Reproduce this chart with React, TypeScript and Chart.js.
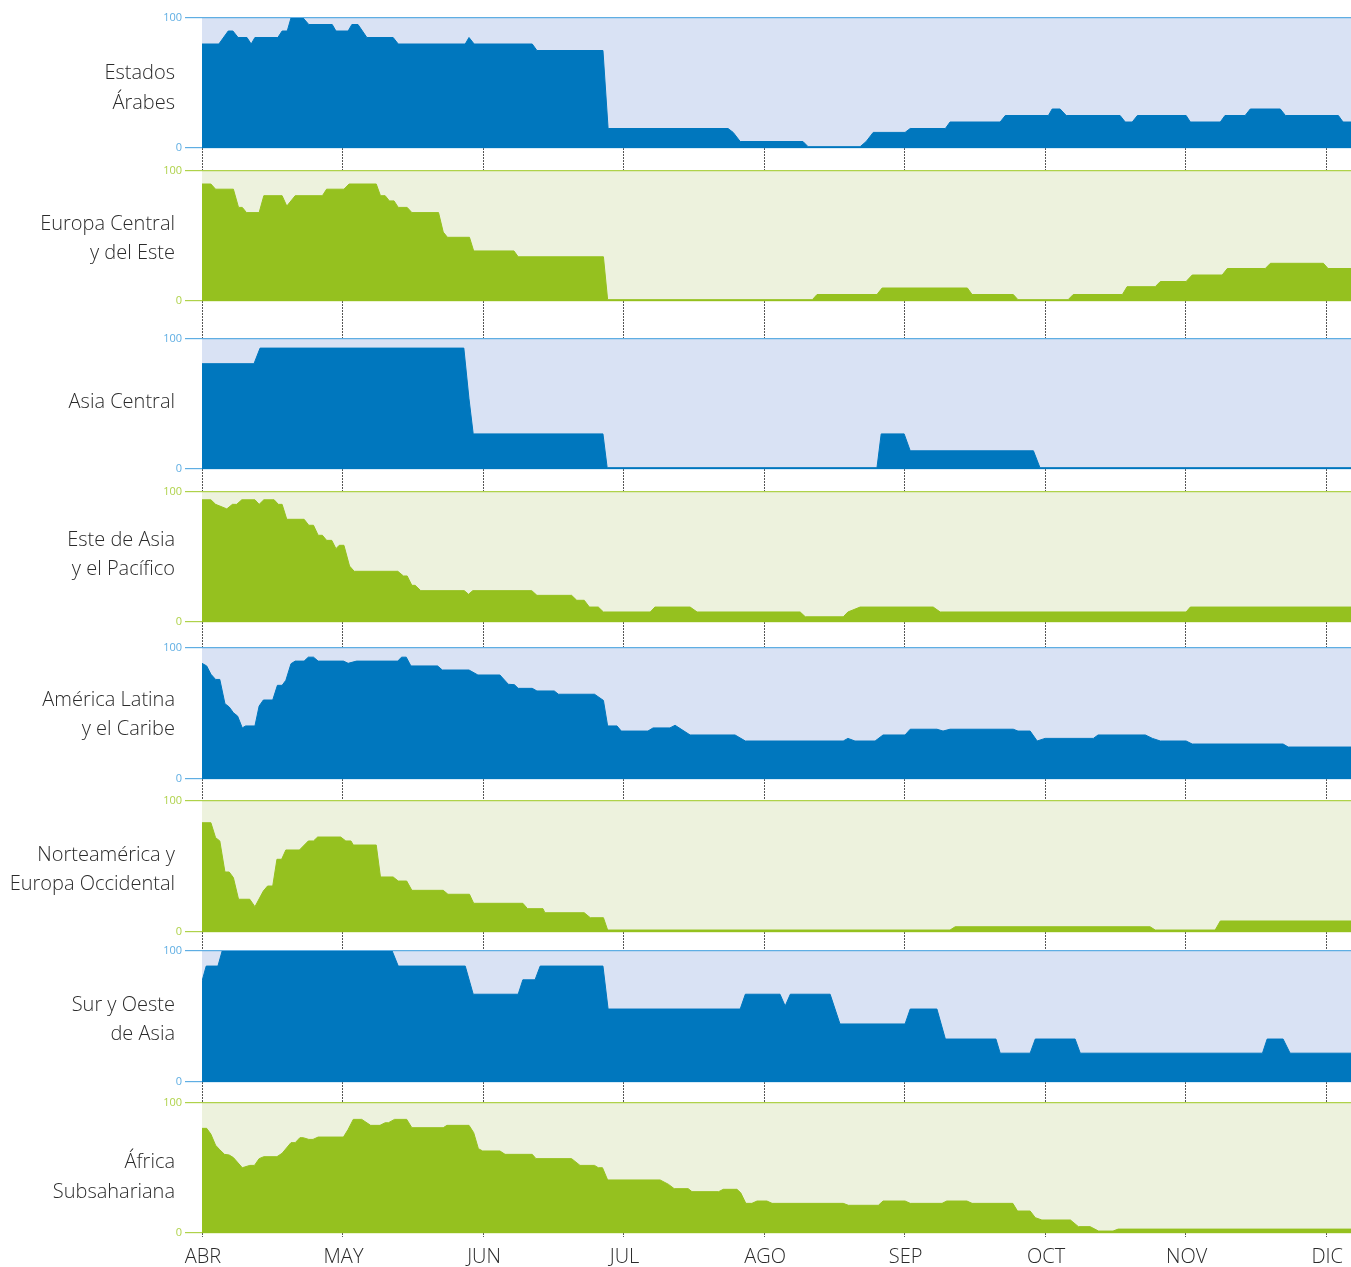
import React, { useEffect, useRef } from 'react';
import { Chart, registerables } from 'chart.js';

Chart.register(...registerables);

// ---- Data ----
// x = days since 1 April (30 per month on the chart's month grid), y = value (0-100)
const MONTHS = ['ABR', 'MAY', 'JUN', 'JUL', 'AGO', 'SEP', 'OCT', 'NOV', 'DIC'];
const DAYS_PER_MONTH = 30;
const X_MAX = 245.3;

const REGION_LABELS: string[][] = [
  ['Estados', 'Árabes'],
  ['Europa Central', 'y del Este'],
  ['Asia Central'],
  ['Este de Asia', 'y el Pacífico'],
  ['América Latina', 'y el Caribe'],
  ['Norteamérica y', 'Europa Occidental'],
  ['Sur y Oeste', 'de Asia'],
  ['África', 'Subsahariana'],
];

const estadosArabes: [number, number][] = [
  [0, 80], [3.6, 80], [5.6, 90], [6.6, 90], [7.7, 85], [9.6, 85], [10.5, 80], [11.3, 85],
  [16.2, 85], [17.1, 90], [18.2, 90], [19, 100], [21.6, 100], [22.8, 95], [27.8, 95],
  [28.6, 90], [31.2, 90], [32, 95], [33.3, 95], [35.2, 85], [40.8, 85], [41.9, 80],
  [56.2, 80], [57, 85], [58.1, 80], [70.5, 80], [71.5, 75], [85.6, 75], [86.7, 15],
  [112.3, 15], [113.4, 12], [114.9, 5], [128.3, 5], [129.4, 1], [140.5, 1], [141.8, 5],
  [143.3, 12], [150.1, 12], [151.2, 15], [158.7, 15], [159.7, 20], [170.4, 20], [171.5, 25],
  [180.7, 25], [181.5, 30], [183.2, 30], [184.5, 25], [196, 25], [197.1, 20], [198.6, 20],
  [199.7, 25], [210.1, 25], [211, 20], [217.4, 20], [218.4, 25], [222.7, 25], [223.8, 30],
  [230.2, 30], [231.3, 25], [242.6, 25], [243.6, 20], [245.3, 20],
];

const europaCentral: [number, number][] = [
  [0, 90], [1.9, 90], [2.9, 86], [6.7, 86], [7.8, 72], [8.6, 72], [9.5, 68], [12.2, 68],
  [13.2, 81], [17.1, 81], [18.1, 73], [19.9, 81], [25.7, 81], [26.6, 86], [30.3, 86],
  [31.4, 90], [37.2, 90], [38.1, 81], [39.1, 81], [40, 77], [41, 77], [41.9, 72], [43.8, 72],
  [44.8, 68], [50.5, 68], [51.5, 53], [52.4, 49], [57.1, 49], [58, 38.5], [66.6, 38.5],
  [67.5, 34], [85.7, 34], [86.6, 1], [130.3, 1], [131.3, 5], [144.1, 5], [145.2, 10],
  [163.4, 10], [164.4, 5], [173.2, 5], [174.2, 1], [184.9, 1], [186, 5], [196.5, 5],
  [197.5, 11], [203.5, 11], [204.6, 15], [210.1, 15], [211.4, 20], [217.8, 20], [218.9, 25],
  [227, 25], [228.1, 29], [239.4, 29], [240.4, 25], [245.3, 25],
];

const asiaCentral: [number, number][] = [
  [0, 81], [11.1, 81], [12.4, 93], [55.9, 93], [57, 54], [57.9, 27], [85.6, 27], [86.5, 1],
  [144.1, 1], [145, 27], [149.9, 27], [151.2, 14], [177.5, 14], [178.9, 1], [245.3, 1],
];

const esteAsia: [number, number][] = [
  [0, 94], [1.9, 94], [2.9, 90.5], [5.3, 87], [6.5, 90.5], [7.4, 90.5], [8.5, 94], [11.3, 94],
  [12.2, 90.5], [13.2, 94], [15.4, 94], [16.3, 90.5], [17.1, 90.5], [18.1, 79], [21.8, 79],
  [22.8, 74.4], [23.8, 74.4], [24.8, 66.7], [25.7, 66.7], [26.6, 62.8], [27.7, 62.8],
  [28.6, 56.4], [29.3, 59], [30.3, 59], [31.5, 43], [32.5, 39], [41.8, 39], [43, 35.4],
  [43.8, 35.4], [44.8, 28.2], [45.5, 28.2], [46.7, 24.1], [56, 24.1], [56.9, 21.3],
  [57.8, 24.1], [70.4, 24.1], [71.5, 20.5], [78.9, 20.5], [80, 16.7], [81.6, 16.7],
  [82.7, 11.5], [84.6, 11.5], [85.7, 7.7], [95.7, 7.7], [96.7, 11.5], [104.2, 11.5],
  [105.7, 7.7], [127.7, 7.7], [128.8, 4], [136.9, 4], [137.9, 7.7], [140.5, 11.5],
  [156.1, 11.5], [157.6, 7.7], [210.1, 7.7], [211, 11.5], [245.3, 11.5],
];

const americaLatina: [number, number][] = [
  [0, 88.3], [1, 86.3], [1.9, 80], [2.9, 76], [3.8, 76], [4.9, 57.5], [5.8, 55], [6.7, 50.6],
  [7.6, 48], [8.6, 39], [9.3, 40.5], [11.3, 40.5], [12.2, 55.7], [13.1, 60.3], [15.1, 60.3],
  [16.1, 71.5], [17.1, 71.5], [17.9, 75.3], [19, 88], [19.9, 90], [21.8, 90], [22.7, 93],
  [23.8, 93], [24.8, 90], [30.2, 90], [31.2, 88.3], [33, 90], [41.8, 90], [42.6, 93],
  [43.6, 93], [44.6, 86.3], [50.3, 86.3], [51.3, 83.2], [57, 83.2], [58.9, 79.4],
  [63.6, 79.4], [65.4, 72.3], [66.7, 72], [67.5, 69.2], [70.5, 69.2], [71.5, 67.2],
  [75.2, 67.2], [76.1, 64.7], [83.8, 64.7], [85.7, 60], [86.6, 40.5], [88.6, 40.5],
  [89.5, 36.6], [95.2, 36.6], [96.3, 39], [99.9, 39], [101, 41], [104.2, 33.6],
  [113.8, 33.6], [116, 29], [136.9, 29], [137.9, 31], [139.4, 29], [143.7, 29],
  [145.4, 33.6], [150.1, 33.6], [151.2, 38], [156.9, 38], [158.2, 36.6], [159.7, 38],
  [173.2, 38], [174.2, 36.6], [176.8, 36.6], [178.3, 29], [180, 31], [190.3, 31],
  [191.3, 33.6], [201.4, 33.6], [202.9, 31], [204.6, 29], [210.1, 29], [211.4, 26.7],
  [230.8, 26.7], [231.9, 24.4], [245.3, 24.4],
];

const norteamerica: [number, number][] = [
  [0, 83.4], [1.9, 83.4], [2.9, 72], [3.8, 69.5], [4.9, 45.8], [5.8, 45.8], [6.7, 41.5],
  [7.8, 25], [10.2, 25], [11.3, 19.3], [13.1, 31.3], [14, 35.1], [15.1, 35.1], [16, 55.5],
  [17, 55.5], [17.9, 62.6], [20.8, 62.6], [22.7, 69.5], [23.8, 69.5], [24.7, 72.5],
  [29.6, 72.5], [30.7, 69.5], [31.8, 69.5], [32.3, 66.4], [37.2, 66.4], [38.1, 42],
  [40.8, 42], [41.9, 38.9], [43.7, 38.9], [44.8, 31.8], [51.5, 31.8], [52.5, 28.8],
  [57.1, 28.8], [58, 21.9], [68.5, 21.9], [69.5, 17.8], [72.8, 17.8], [73.2, 14.7],
  [81.6, 14.7], [82.9, 10.9], [85.7, 10.9], [86.6, 1.5], [159.7, 1.5], [160.8, 4],
  [202.4, 4], [203.5, 1.5], [216.3, 1.5], [217.4, 8.4], [245.3, 8.4],
];

const surOesteAsia: [number, number][] = [
  [0, 77], [0.9, 88.5], [3.4, 88.5], [4.3, 100], [40.6, 100], [41.9, 88.5], [56.2, 88.5],
  [57.9, 67], [67.5, 67], [68.5, 78], [71.1, 78], [72.2, 88.5], [85.6, 88.5], [86.7, 55.7],
  [114.9, 55.7], [116, 67], [123.4, 67], [124.5, 58], [125.6, 67], [134.1, 67], [136.2, 44.3],
  [150.1, 44.3], [151.2, 55.7], [156.9, 55.7], [158.7, 32.8], [169.5, 32.8], [170.4, 22],
  [176.8, 22], [177.9, 32.8], [186.4, 32.8], [187.5, 22], [226.4, 22], [227.4, 32.8],
  [230.8, 32.8], [232.3, 22], [245.3, 22],
];

const africaSub: [number, number][] = [
  [0, 80.5], [1, 80.5], [1.9, 76], [2.9, 67.5], [3.8, 64], [4.8, 60.5], [5.8, 60], [6.7, 58],
  [8.6, 50.2], [10.2, 52], [11.2, 52], [12.2, 57.2], [13.2, 58.7], [16, 58.7], [17.1, 61.3],
  [19, 69.5], [19.9, 69.5], [20.9, 73.3], [21.6, 73.3], [22.8, 72], [23.7, 72], [24.8, 73.8],
  [30.2, 73.8], [31.2, 79.7], [32.3, 87.4], [34.1, 87.4], [36, 82.8], [38, 82.8], [39.1, 84.8],
  [39.8, 84.8], [41.1, 87.4], [43.7, 87.4], [44.8, 81], [51.5, 81], [52.3, 82.8], [57, 82.8],
  [58, 77.2], [59, 64.9], [59.9, 63.1], [63.6, 63.1], [64.7, 60.5], [70.5, 60.5], [71.3, 57.2],
  [78.9, 57.2], [80.7, 52], [83.8, 52], [84.6, 50.2], [85.5, 50.2], [86.6, 40.8], [97.8, 40.8],
  [99.6, 37.4], [100.8, 34.1], [103.8, 34.1], [104.6, 31.8], [110.3, 31.8], [111.3, 33.6],
  [114.2, 33.6], [115, 31], [116.1, 22.8], [117.4, 22.8], [118.5, 24.6], [120.6, 24.6],
  [121.7, 22.8], [136.9, 22.8], [138, 21.3], [144.4, 21.3], [145.4, 24.6], [150.1, 24.6],
  [151.2, 22.8], [158, 22.8], [159, 24.6], [163.3, 24.6], [164.4, 22.8], [173.1, 22.8],
  [174.1, 16.9], [176.8, 16.9], [177.9, 11.8], [179.3, 10], [185.4, 10], [187.1, 4.9],
  [189.6, 4.9], [191.4, 1.5], [194.5, 1.5], [195.6, 3], [245.3, 3],
];

const SERIES = [
  estadosArabes, europaCentral, asiaCentral, esteAsia,
  americaLatina, norteamerica, surOesteAsia, africaSub,
];

// ---- Layout & style ----
// [page y of the 100 line, page y of the 0 line]
const PANEL_Y: [number, number][] = [
  [17, 147], [170, 300], [338, 468], [491, 621],
  [647, 778], [800, 931], [950, 1081], [1102, 1232],
];
// page y of the centre of each region label block
const LABEL_CY = [88.5, 239, 402, 555, 715, 870, 1020, 1177.5];
const MONTH_LABEL_Y = 1257;
const PAGE_W = 1351;
const PAGE_H = 1267;
const PLOT_LEFT = 202;
const PAD_TOP = 10;
const SHIFT = 1;

const THEMES = [
  { fill: '#0077BE', bg: '#D9E2F4', line: '#5FAEE3' },
  { fill: '#95C11F', bg: '#EDF2DD', line: '#AFD24A' },
];

const FONT = '"Open Sans", "Noto Sans", "DejaVu Sans", sans-serif';

function Panel({ idx }: { idx: number }) {
  const ref = useRef<HTMLCanvasElement | null>(null);
  const [top, bottom] = PANEL_Y[idx];
  const isLast = idx === PANEL_Y.length - 1;
  const gap = isLast ? PAGE_H - bottom : PANEL_Y[idx + 1][0] - bottom;
  const H = bottom - top + PAD_TOP + gap;
  const canvasTop = top - PAD_TOP + SHIFT;

  useEffect(() => {
    const theme = THEMES[idx % 2];
    const labelLines = REGION_LABELS[idx];

    const bgPlugin = {
      id: 'panelBg',
      beforeDraw(chart: any) {
        const { ctx, chartArea } = chart;
        ctx.save();
        ctx.fillStyle = theme.bg;
        ctx.fillRect(chartArea.left, chartArea.top, chartArea.right - chartArea.left, chartArea.bottom - chartArea.top);
        ctx.restore();
      },
    };

    const labelPlugin = {
      id: 'regionLabel',
      afterDraw(chart: any) {
        const { ctx } = chart;
        ctx.save();
        ctx.font = `300 20px ${FONT}`;
        ctx.fillStyle = '#2b2b2b';
        ctx.textAlign = 'right';
        ctx.textBaseline = 'middle';
        const lh = 29.5;
        const cy = LABEL_CY[idx] - canvasTop;
        const start = cy - ((labelLines.length - 1) * lh) / 2;
        labelLines.forEach((t, i) => ctx.fillText(t, 175, start + i * lh));

        if (isLast) {
          const xs = chart.scales.x;
          ctx.font = `300 20px ${FONT}`;
          ctx.textAlign = 'center';
          MONTHS.forEach((m, i) => {
            ctx.fillText(m, xs.getPixelForValue(i * DAYS_PER_MONTH) + 1, MONTH_LABEL_Y - canvasTop);
          });
        }
        ctx.restore();
      },
    };

    const chart = new Chart(ref.current as HTMLCanvasElement, {
      type: 'line',
      data: {
        datasets: [
          {
            data: SERIES[idx].map(([x, y]) => ({ x, y })),
            fill: 'origin',
            backgroundColor: theme.fill,
            borderColor: theme.fill,
            borderWidth: 1,
            pointRadius: 0,
            tension: 0,
          },
        ],
      },
      options: {
        animation: false,
        responsive: false,
        maintainAspectRatio: false,
        devicePixelRatio: 1,
        layout: { padding: { top: PAD_TOP, left: 0, right: 0, bottom: 0 } },
        plugins: {
          legend: { display: false },
          tooltip: { enabled: false },
        },
        scales: {
          x: {
            type: 'linear',
            min: 0,
            max: X_MAX,
            afterBuildTicks: (s: any) => {
              s.ticks = MONTHS.map((_, i) => ({ value: i * DAYS_PER_MONTH }));
            },
            afterFit: (s: any) => {
              s.height = gap;
            },
            border: { display: false },
            grid: {
              drawOnChartArea: false,
              drawTicks: true,
              tickLength: isLast ? 4 : gap,
              tickColor: '#555555',
              tickWidth: 1,
              tickBorderDash: [2, 1],
            },
            ticks: { display: false },
          },
          y: {
            min: 0,
            max: 100,
            afterBuildTicks: (s: any) => {
              s.ticks = [{ value: 0 }, { value: 100 }];
            },
            afterFit: (s: any) => {
              s.width = PLOT_LEFT;
            },
            border: { display: false },
            grid: {
              color: theme.line,
              lineWidth: 1.2,
              drawTicks: true,
              tickLength: 17,
              tickColor: theme.line,
            },
            ticks: {
              color: theme.line,
              padding: 3,
              font: { family: FONT, size: 11 },
            },
          },
        },
      },
      plugins: [bgPlugin, labelPlugin],
    } as any);
    return () => chart.destroy();
  }, [idx]);

  return (
    <canvas
      ref={ref}
      width={PAGE_W}
      height={H}
      style={{ position: 'absolute', left: 0, top: canvasTop, width: PAGE_W, height: H, display: 'block' }}
    />
  );
}

export default function App() {
  return (
    <div style={{ position: 'absolute', left: 0, top: 0, width: PAGE_W, height: PAGE_H, background: '#ffffff', overflow: 'hidden' }}>
      {PANEL_Y.map((_, i) => (
        <Panel key={i} idx={i} />
      ))}
    </div>
  );
}
